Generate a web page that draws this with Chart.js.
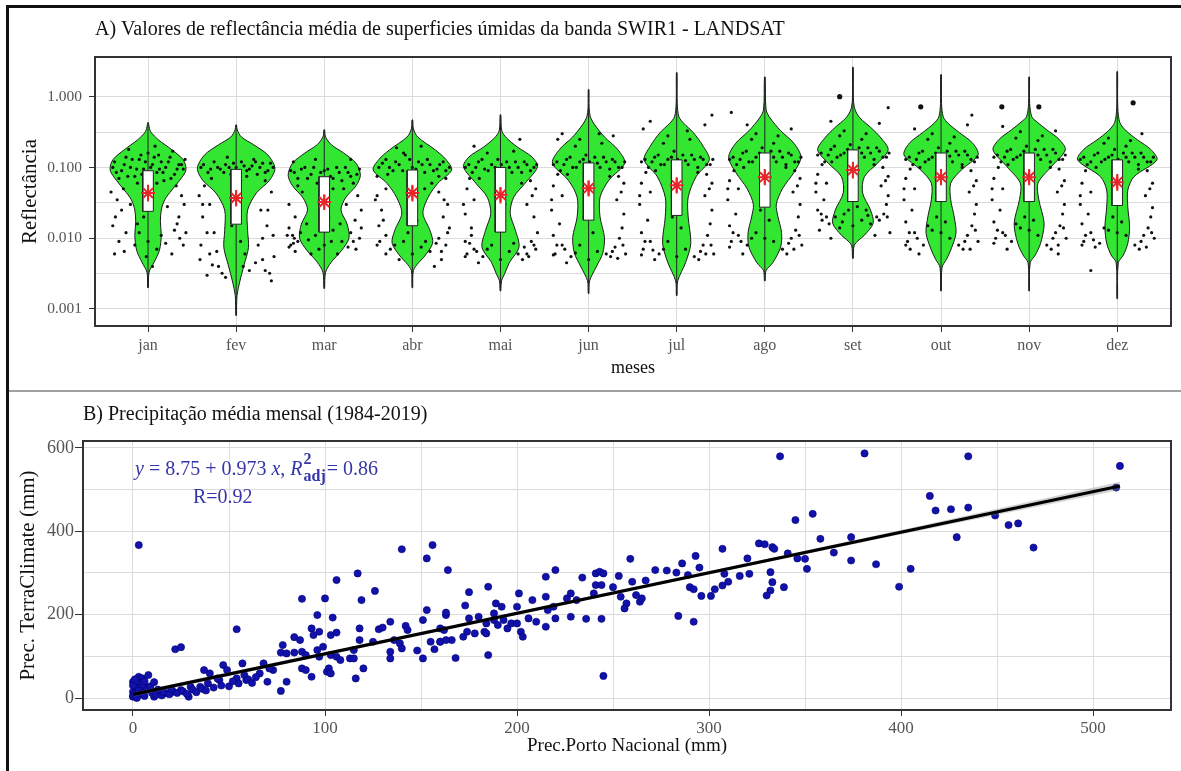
<!DOCTYPE html>
<html><head><meta charset="utf-8">
<script src="https://cdn.jsdelivr.net/npm/chart.js@4.4.0/dist/chart.umd.min.js"></script>
<style>
html,body{margin:0;padding:0;background:#fff;width:1181px;height:771px;overflow:hidden;}
#frame{position:absolute;left:6px;top:5px;width:1175px;height:766px;border-top:3px solid #111;border-left:3px solid #111;box-sizing:border-box;pointer-events:none;z-index:2}
#divider{position:absolute;left:9px;top:390px;width:1172px;height:0;border-top:2px solid #a0a0a0;z-index:2}
#wa{position:absolute;left:0;top:0;width:1181px;height:391px}
#wb{position:absolute;left:0;top:392px;width:1181px;height:379px}
</style></head><body>
<div id="wa"><canvas id="ca" width="1181" height="391"></canvas></div>
<div id="wb"><canvas id="cb" width="1181" height="379"></canvas></div>
<div id="frame"></div><div id="divider"></div>
<script>
// ---------- Panel A data ----------
const titleA = 'A) Valores de reflectância média de superficies úmidas da banda SWIR1 - LANDSAT';
const months = ['jan','fev','mar','abr','mai','jun','jul','ago','set','out','nov','dez'];
const yMajorTicks = [0.001, 0.01, 0.1, 1];
const yMajorLabels = ['0.001','0.010','0.100','1.000'];
const yMinorTicks = [0.00316, 0.0316, 0.316];
// violin outline: [reflectance, half width in category units]
const violinJan = [[0.0020,0.004],[0.0033,0.012],[0.0046,0.07],[0.0068,0.13],[0.011,0.15],[0.017,0.14],[0.025,0.15],[0.035,0.19],[0.048,0.27],[0.066,0.36],[0.092,0.43],[0.128,0.40],[0.178,0.27],[0.245,0.12],[0.32,0.03],[0.40,0.008],[0.43,0.004]];
const violinFev = [[0.00081,0.004],[0.00155,0.01],[0.0024,0.04],[0.0042,0.09],[0.0074,0.14],[0.0129,0.13],[0.025,0.13],[0.0436,0.23],[0.066,0.38],[0.098,0.44],[0.15,0.36],[0.209,0.2],[0.27,0.06],[0.34,0.012],[0.40,0.004]];
const violinMar = [[0.00195,0.004],[0.0033,0.015],[0.0046,0.08],[0.0068,0.2],[0.010,0.28],[0.0158,0.26],[0.025,0.19],[0.037,0.24],[0.055,0.36],[0.078,0.41],[0.115,0.36],[0.16,0.22],[0.21,0.08],[0.27,0.015],[0.34,0.004]];
const violinAbr = [[0.0020,0.004],[0.0035,0.012],[0.0045,0.07],[0.0054,0.13],[0.0085,0.23],[0.0129,0.2],[0.0225,0.12],[0.038,0.18],[0.060,0.29],[0.092,0.445],[0.13,0.38],[0.177,0.26],[0.27,0.06],[0.35,0.012],[0.47,0.004]];
const violinMai = [[0.0018,0.004],[0.0025,0.012],[0.0032,0.05],[0.0045,0.1],[0.0075,0.21],[0.0129,0.17],[0.0225,0.11],[0.038,0.15],[0.06,0.28],[0.102,0.42],[0.14,0.36],[0.195,0.19],[0.26,0.07],[0.33,0.015],[0.555,0.004]];
const violinJun = [[0.00166,0.004],[0.0025,0.012],[0.0039,0.085],[0.0061,0.16],[0.0103,0.18],[0.02,0.13],[0.038,0.13],[0.066,0.23],[0.115,0.41],[0.18,0.33],[0.27,0.18],[0.4,0.07],[0.52,0.02],[0.7,0.006],[1.26,0.004]];
const violinJul = [[0.00155,0.004],[0.0025,0.012],[0.0045,0.1],[0.0085,0.16],[0.02,0.13],[0.038,0.13],[0.074,0.22],[0.128,0.37],[0.2,0.3],[0.31,0.19],[0.42,0.08],[0.52,0.025],[0.8,0.006],[2.19,0.004]];
const violinAgo = [[0.0025,0.004],[0.0035,0.015],[0.0045,0.09],[0.0075,0.18],[0.012,0.19],[0.02,0.15],[0.03,0.13],[0.05,0.2],[0.085,0.33],[0.14,0.41],[0.22,0.33],[0.33,0.18],[0.5,0.06],[0.65,0.015],[1.9,0.004]];
const violinSet = [[0.0052,0.004],[0.0079,0.015],[0.0095,0.07],[0.011,0.13],[0.0163,0.23],[0.025,0.2],[0.0436,0.11],[0.074,0.13],[0.115,0.28],[0.177,0.40],[0.26,0.32],[0.37,0.2],[0.5,0.08],[0.65,0.025],[0.9,0.006],[2.6,0.004]];
const violinOut = [[0.0018,0.004],[0.0039,0.012],[0.005,0.06],[0.0068,0.11],[0.0118,0.17],[0.02,0.15],[0.035,0.11],[0.06,0.11],[0.092,0.23],[0.15,0.42],[0.22,0.36],[0.31,0.21],[0.42,0.08],[0.52,0.025],[0.8,0.006],[2.05,0.004]];
const violinNov = [[0.0018,0.004],[0.0045,0.012],[0.0058,0.07],[0.0085,0.13],[0.0163,0.17],[0.035,0.11],[0.06,0.1],[0.102,0.25],[0.177,0.41],[0.25,0.34],[0.34,0.2],[0.45,0.08],[0.52,0.03],[0.8,0.006],[1.9,0.004]];
const violinDez = [[0.0014,0.004],[0.0045,0.012],[0.0058,0.07],[0.0085,0.12],[0.0144,0.14],[0.0275,0.12],[0.048,0.12],[0.074,0.19],[0.128,0.45],[0.18,0.38],[0.245,0.23],[0.33,0.1],[0.43,0.03],[0.7,0.006],[2.26,0.004]];
const violins = [violinJan,violinFev,violinMar,violinAbr,violinMai,violinJun,violinJul,violinAgo,violinSet,violinOut,violinNov,violinDez];
const boxQ1 = [0.024,0.0158,0.0122,0.015,0.0122,0.018,0.021,0.0275,0.033,0.033,0.033,0.029];
const boxQ3 = [0.09,0.094,0.074,0.092,0.1,0.116,0.128,0.16,0.177,0.16,0.16,0.128];
const means = [0.0435,0.037,0.0325,0.0436,0.041,0.051,0.056,0.073,0.092,0.073,0.073,0.062];
const meanLo = [0.033,0.028,0.025,0.033,0.031,0.039,0.043,0.056,0.070,0.056,0.056,0.047];
const meanHi = [0.057,0.048,0.042,0.057,0.053,0.066,0.073,0.095,0.12,0.095,0.095,0.081];
// jittered observations: [offset from month, reflectance]
const jitJan = [[-0.38,0.12],[-0.3,0.09],[-0.25,0.14],[-0.2,0.1],[-0.15,0.075],[-0.1,0.13],[-0.05,0.095],[0,0.16],[0.05,0.11],[0.1,0.085],[0.15,0.12],[0.2,0.1],[0.25,0.14],[0.3,0.08],[0.35,0.11],[0.4,0.095],[-0.33,0.07],[-0.22,0.18],[0.08,0.2],[0.28,0.17],[-0.12,0.06],[0.18,0.065],[-0.4,0.1],[0.42,0.13],[-0.28,0.05],[0.32,0.055],[0.02,0.07],[-0.08,0.15],[0.12,0.15],[-0.35,0.035],[0.38,0.04],[-0.3,0.025],[0.35,0.02],[-0.4,0.015],[0.3,0.013],[-0.2,0.03],[0.22,0.028],[-0.33,0.009],[0.4,0.008],[-0.1,0.012],[0.1,0.007],[-0.38,0.006],[0.27,0.006],[0,0.009],[0.05,0.004],[-0.05,0.02],[0.15,0.011],[-0.25,0.012],[0.43,0.012],[-0.15,0.008],
 [-0.36,0.085],[-0.27,0.11],[-0.18,0.13],[-0.13,0.095],[-0.03,0.12],[0.03,0.1],[0.07,0.14],[0.13,0.095],[0.17,0.085],[0.23,0.12],[0.33,0.095],[0.38,0.11],[-0.23,0.075],[0.26,0.07],[-0.07,0.08],[0.1,0.06],[-0.42,0.045],[0.41,0.03],[-0.37,0.02],[0.33,0.016],[-0.27,0.0065],[0.36,0.01],[-0.12,0.016],[0.2,0.0085],[-0.02,0.0055]];
const jitFev = [[-0.4,0.1],[-0.32,0.085],[-0.25,0.12],[-0.18,0.095],[-0.12,0.11],[-0.06,0.08],[0,0.1],[0.06,0.12],[0.12,0.09],[0.18,0.105],[0.24,0.08],[0.3,0.115],[0.36,0.09],[0.42,0.1],[-0.28,0.07],[0.2,0.13],[-0.1,0.14],[0.05,0.065],[0.33,0.065],[-0.36,0.055],[-0.42,0.04],[0.4,0.045],[-0.3,0.03],[0.28,0.025],[-0.38,0.02],[0.35,0.015],[-0.25,0.012],[0.42,0.011],[-0.4,0.008],[0.25,0.008],[-0.3,0.006],[0.3,0.005],[-0.2,0.004],[0.15,0.0035],[-0.33,0.003],[0.38,0.0032],[-0.12,0.0028],[0.05,0.009],[-0.05,0.015],[0.1,0.006],[-0.22,0.0065],[0.4,0.0025],
 [-0.37,0.11],[-0.29,0.095],[-0.21,0.1],[-0.14,0.085],[-0.03,0.115],[0.03,0.09],[0.09,0.105],[0.15,0.095],[0.22,0.12],[0.27,0.1],[0.33,0.085],[0.39,0.115],[-0.08,0.1],[0.12,0.075],[-0.38,0.03],[0.36,0.025],[-0.33,0.012],[0.3,0.01],[-0.41,0.005],[0.22,0.0045],[-0.16,0.0032],[0.43,0.0055],[-0.27,0.0042],[0.08,0.004],[0.33,0.0035]];
const jitMar = [[-0.38,0.09],[-0.3,0.07],[-0.22,0.1],[-0.15,0.08],[-0.08,0.06],[0,0.09],[0.07,0.075],[0.14,0.1],[0.2,0.065],[0.27,0.085],[0.33,0.06],[0.4,0.095],[-0.35,0.12],[0.3,0.13],[-0.1,0.13],[0.1,0.05],[-0.25,0.045],[0.38,0.04],[-0.4,0.03],[0.42,0.025],[-0.33,0.02],[0.35,0.018],[-0.4,0.014],[-0.36,0.011],[-0.3,0.009],[-0.38,0.008],[0.3,0.012],[0.4,0.01],[-0.2,0.016],[0.2,0.009],[-0.1,0.011],[0.1,0.013],[0,0.008],[-0.15,0.006],[0.15,0.006],[-0.33,0.0065],[0.36,0.007],[0.05,0.02],[-0.05,0.03],[0.25,0.03],
 [-0.34,0.085],[-0.26,0.095],[-0.19,0.07],[-0.12,0.1],[-0.04,0.085],[0.04,0.095],[0.1,0.07],[0.17,0.085],[0.24,0.1],[0.3,0.075],[0.37,0.08],[-0.3,0.055],[0.22,0.05],[-0.42,0.011],[-0.34,0.01],[-0.4,0.0075],[-0.35,0.0085],[0.33,0.009],[0.42,0.014],[0.27,0.0075],[-0.27,0.012],[0.08,0.009],[-0.06,0.007],[0.18,0.016],[-0.18,0.0095]];
const jitAbr = [[-0.38,0.1],[-0.3,0.13],[-0.22,0.09],[-0.15,0.11],[-0.08,0.15],[0,0.1],[0.07,0.12],[0.14,0.085],[0.2,0.11],[0.28,0.095],[0.35,0.12],[0.42,0.1],[-0.4,0.075],[0.38,0.07],[-0.18,0.19],[0.1,0.2],[-0.05,0.065],[0.22,0.06],[-0.3,0.05],[0.3,0.045],[-0.42,0.035],[0.4,0.03],[-0.35,0.025],[0.35,0.02],[-0.38,0.015],[0.42,0.014],[-0.3,0.011],[0.3,0.01],[-0.4,0.008],[0.38,0.008],[-0.25,0.007],[0.2,0.0065],[-0.1,0.009],[0.1,0.0075],[0,0.006],[-0.15,0.005],[0.33,0.005],[0.25,0.004],[-0.05,0.012],[0.05,0.018],
 [-0.34,0.115],[-0.26,0.1],[-0.19,0.12],[-0.11,0.09],[-0.03,0.13],[0.04,0.095],[0.11,0.11],[0.17,0.13],[0.24,0.09],[0.31,0.11],[0.38,0.09],[-0.28,0.08],[0.3,0.075],[-0.1,0.16],[0.14,0.05],[-0.4,0.04],[0.36,0.035],[-0.33,0.018],[0.4,0.012],[-0.37,0.009],[0.33,0.0065],[-0.2,0.008],[0.15,0.009],[-0.3,0.006],[0.27,0.0085]];
const jitMai = [[-0.4,0.1],[-0.32,0.085],[-0.25,0.12],[-0.18,0.095],[-0.1,0.11],[-0.03,0.13],[0.04,0.09],[0.1,0.1],[0.17,0.12],[0.24,0.085],[0.3,0.11],[0.38,0.1],[-0.35,0.07],[0.34,0.065],[-0.15,0.16],[0.15,0.17],[0,0.065],[-0.38,0.05],[0.4,0.05],[-0.3,0.035],[0.3,0.03],[-0.4,0.022],[0.38,0.02],[-0.33,0.014],[0.42,0.012],[-0.4,0.009],[0.35,0.009],[-0.3,0.007],[0.3,0.006],[-0.38,0.006],[0.4,0.007],[-0.2,0.0055],[0.2,0.006],[-0.1,0.008],[0.1,0.0065],[0,0.005],[-0.25,0.0045],[0.25,0.005],[-0.05,0.015],[0.05,0.03],[0.22,0.25],[-0.3,0.2],
 [-0.36,0.11],[-0.28,0.1],[-0.21,0.13],[-0.14,0.09],[-0.06,0.1],[0.01,0.11],[0.07,0.12],[0.13,0.085],[0.2,0.1],[0.27,0.12],[0.34,0.09],[0.41,0.11],[-0.24,0.07],[0.24,0.06],[-0.42,0.03],[0.36,0.04],[-0.35,0.0085],[0.38,0.008],[-0.27,0.0065],[0.27,0.0075],[-0.4,0.0055],[0.32,0.0055],[-0.15,0.007],[0.15,0.0085],[-0.33,0.011]];
const jitJun = [[-0.4,0.11],[-0.32,0.09],[-0.25,0.13],[-0.18,0.1],[-0.1,0.12],[-0.03,0.15],[0.04,0.1],[0.1,0.115],[0.17,0.14],[0.24,0.095],[0.3,0.12],[0.38,0.1],[-0.35,0.08],[0.34,0.075],[-0.15,0.2],[0.15,0.22],[-0.3,0.3],[0.28,0.28],[0,0.075],[-0.4,0.055],[0.4,0.06],[-0.3,0.04],[0.32,0.035],[-0.42,0.025],[0.4,0.022],[-0.33,0.016],[0.38,0.014],[-0.4,0.011],[0.35,0.01],[-0.3,0.008],[0.3,0.0075],[-0.38,0.006],[0.42,0.006],[-0.2,0.0055],[0.2,0.006],[-0.1,0.008],[0.1,0.0065],[0,0.005],[-0.25,0.0045],[0.25,0.0055],[-0.05,0.02],[0.05,0.012],[-0.35,0.25],
 [-0.36,0.12],[-0.28,0.11],[-0.21,0.14],[-0.14,0.1],[-0.06,0.13],[0.01,0.12],[0.07,0.14],[0.13,0.1],[0.2,0.12],[0.27,0.13],[0.34,0.1],[0.41,0.12],[-0.24,0.08],[0.24,0.075],[-0.1,0.25],[0.12,0.3],[-0.42,0.035],[0.37,0.045],[-0.36,0.008],[0.39,0.008],[-0.27,0.007],[0.27,0.0065],[-0.4,0.0058],[0.33,0.0052],[-0.15,0.0062]];
const jitJul = [[-0.4,0.12],[-0.32,0.1],[-0.25,0.14],[-0.18,0.11],[-0.1,0.13],[-0.03,0.17],[0.04,0.11],[0.1,0.125],[0.17,0.15],[0.24,0.1],[0.3,0.13],[0.38,0.11],[-0.35,0.085],[0.34,0.08],[-0.15,0.22],[0.15,0.25],[-0.38,0.35],[0.32,0.4],[0.4,0.55],[-0.3,0.45],[0,0.08],[-0.4,0.06],[0.4,0.06],[-0.3,0.045],[0.32,0.04],[-0.42,0.03],[0.4,0.025],[-0.33,0.018],[0.38,0.016],[-0.4,0.012],[0.35,0.011],[-0.3,0.009],[0.3,0.008],[-0.38,0.007],[0.42,0.006],[-0.2,0.006],[0.2,0.0055],[-0.1,0.009],[0.1,0.007],[0,0.0055],[-0.25,0.005],[0.25,0.005],[-0.05,0.02],[0.05,0.014],
 [-0.36,0.13],[-0.28,0.12],[-0.21,0.15],[-0.14,0.11],[-0.06,0.14],[0.01,0.13],[0.07,0.15],[0.13,0.11],[0.2,0.13],[0.27,0.14],[0.34,0.11],[0.41,0.13],[-0.24,0.09],[0.24,0.085],[-0.1,0.28],[0.12,0.33],[-0.42,0.04],[0.37,0.05],[-0.36,0.009],[0.39,0.008],[-0.27,0.0068],[0.27,0.0065],[-0.4,0.0058],[0.33,0.006],[-0.15,0.007]];
const jitAgo = [[-0.4,0.13],[-0.32,0.11],[-0.25,0.16],[-0.18,0.12],[-0.1,0.14],[-0.03,0.19],[0.04,0.12],[0.1,0.14],[0.17,0.17],[0.24,0.11],[0.3,0.15],[0.38,0.12],[-0.35,0.09],[0.34,0.09],[-0.15,0.25],[0.15,0.28],[-0.2,0.4],[0.3,0.35],[-0.38,0.6],[0,0.09],[-0.4,0.065],[0.4,0.07],[-0.3,0.05],[0.32,0.045],[-0.42,0.035],[0.4,0.03],[-0.33,0.022],[0.38,0.02],[-0.4,0.015],[0.35,0.013],[-0.3,0.011],[0.3,0.01],[-0.38,0.009],[0.42,0.008],[-0.2,0.008],[0.2,0.007],[-0.1,0.012],[0.1,0.009],[0,0.01],[-0.25,0.006],[0.25,0.006],[-0.05,0.025],[0.05,0.018],
 [-0.36,0.14],[-0.28,0.13],[-0.21,0.17],[-0.14,0.12],[-0.06,0.16],[0.01,0.14],[0.07,0.17],[0.13,0.12],[0.2,0.14],[0.27,0.16],[0.34,0.12],[0.41,0.14],[-0.24,0.1],[0.24,0.1],[-0.1,0.3],[0.1,0.22],[-0.42,0.05],[0.37,0.055],[-0.36,0.012],[0.39,0.011],[-0.27,0.009],[0.27,0.0085],[-0.4,0.0075],[0.33,0.007],[-0.15,0.01]];
const jitSet = [[-0.4,0.15],[-0.32,0.12],[-0.25,0.18],[-0.18,0.14],[-0.1,0.16],[-0.03,0.21],[0.04,0.13],[0.1,0.16],[0.17,0.19],[0.24,0.13],[0.3,0.17],[0.38,0.14],[-0.35,0.11],[0.34,0.1],[-0.15,0.28],[0.15,0.3],[-0.25,0.45],[0.3,0.42],[0.4,0.7],[-0.05,0.09],[-0.4,0.08],[0.4,0.075],[-0.3,0.06],[0.32,0.055],[-0.42,0.045],[0.4,0.04],[-0.33,0.035],[0.38,0.03],[-0.4,0.025],[0.35,0.022],[-0.3,0.02],[0.3,0.018],[-0.2,0.02],[0.2,0.016],[-0.1,0.022],[0.1,0.018],[0,0.015],[-0.15,0.014],[0.15,0.025],[-0.38,0.013],[0.42,0.012],[-0.25,0.01],[0.25,0.011],[-0.35,0.018],[0.05,0.028],
 [-0.36,0.16],[-0.28,0.15],[-0.21,0.2],[-0.14,0.15],[-0.06,0.18],[0.01,0.16],[0.07,0.19],[0.13,0.14],[0.2,0.16],[0.27,0.19],[0.34,0.14],[0.41,0.16],[-0.24,0.12],[0.24,0.11],[-0.1,0.33],[0.1,0.25],[-0.42,0.06],[0.37,0.065],[-0.36,0.022],[0.39,0.02],[-0.27,0.016],[0.27,0.02],[-0.12,0.017],[0.17,0.021],[-0.05,0.025]];
const jitOut = [[-0.4,0.13],[-0.32,0.11],[-0.25,0.16],[-0.18,0.12],[-0.1,0.14],[-0.03,0.19],[0.04,0.12],[0.1,0.145],[0.17,0.17],[0.24,0.11],[0.3,0.15],[0.38,0.12],[-0.35,0.095],[0.34,0.09],[-0.15,0.25],[0.15,0.27],[-0.3,0.35],[0.3,0.4],[0.35,0.55],[-0.05,0.085],[-0.4,0.07],[0.4,0.065],[-0.3,0.05],[0.32,0.045],[-0.42,0.035],[0.4,0.03],[-0.33,0.025],[0.38,0.022],[-0.4,0.017],[0.35,0.015],[-0.3,0.012],[0.3,0.011],[-0.38,0.009],[0.42,0.009],[-0.2,0.008],[0.2,0.008],[-0.1,0.013],[0.1,0.01],[0,0.012],[-0.25,0.006],[0.25,0.007],[-0.05,0.02],[0.05,0.017],[-0.35,0.007],
 [-0.36,0.14],[-0.28,0.13],[-0.21,0.17],[-0.14,0.13],[-0.06,0.16],[0.01,0.14],[0.07,0.17],[0.13,0.12],[0.2,0.15],[0.27,0.17],[0.34,0.13],[0.41,0.14],[-0.24,0.1],[0.24,0.1],[-0.1,0.3],[0.1,0.22],[-0.42,0.05],[0.37,0.055],[-0.36,0.012],[0.39,0.013],[-0.27,0.01],[0.27,0.009],[-0.4,0.008],[0.33,0.007],[-0.15,0.015]];
const jitNov = [[-0.4,0.14],[-0.32,0.12],[-0.25,0.17],[-0.18,0.13],[-0.1,0.15],[-0.03,0.2],[0.04,0.12],[0.1,0.15],[0.17,0.18],[0.24,0.12],[0.3,0.16],[0.38,0.13],[-0.35,0.1],[0.34,0.095],[-0.15,0.26],[0.15,0.28],[-0.3,0.38],[0.3,0.33],[-0.05,0.09],[-0.4,0.07],[0.4,0.065],[-0.3,0.05],[0.32,0.045],[-0.42,0.035],[0.4,0.03],[-0.33,0.025],[0.38,0.022],[-0.4,0.017],[0.35,0.015],[-0.3,0.012],[0.3,0.012],[-0.38,0.01],[0.42,0.01],[-0.2,0.009],[0.2,0.008],[-0.1,0.014],[0.1,0.011],[0,0.013],[-0.25,0.007],[0.25,0.007],[-0.05,0.02],[0.05,0.018],[0.33,0.006],
 [-0.36,0.15],[-0.28,0.14],[-0.21,0.18],[-0.14,0.14],[-0.06,0.17],[0.01,0.15],[0.07,0.18],[0.13,0.13],[0.2,0.15],[0.27,0.18],[0.34,0.13],[0.41,0.15],[-0.24,0.11],[0.24,0.1],[-0.1,0.32],[0.1,0.24],[-0.42,0.05],[0.37,0.055],[-0.36,0.013],[0.39,0.014],[-0.27,0.011],[0.27,0.01],[-0.4,0.0085],[0.33,0.008],[-0.15,0.016]];
const jitDez = [[-0.42,0.13],[-0.34,0.11],[-0.26,0.15],[-0.18,0.12],[-0.1,0.14],[-0.03,0.18],[0.04,0.12],[0.1,0.14],[0.17,0.16],[0.24,0.11],[0.3,0.14],[0.38,0.12],[-0.36,0.09],[0.34,0.09],[-0.15,0.22],[0.15,0.24],[0.28,0.3],[-0.05,0.08],[-0.4,0.06],[0.4,0.06],[-0.3,0.045],[0.32,0.04],[-0.42,0.03],[0.4,0.027],[-0.33,0.022],[0.38,0.02],[-0.4,0.016],[0.35,0.014],[-0.3,0.012],[0.3,0.011],[-0.38,0.009],[0.42,0.01],[-0.2,0.0085],[0.2,0.008],[-0.1,0.013],[0.1,0.011],[0,0.012],[-0.25,0.0075],[0.25,0.007],[-0.05,0.02],[0.05,0.017],[-0.3,0.0035],
 [-0.38,0.14],[-0.3,0.12],[-0.22,0.16],[-0.14,0.13],[-0.06,0.15],[0.01,0.13],[0.07,0.16],[0.13,0.12],[0.2,0.14],[0.27,0.16],[0.34,0.12],[0.41,0.14],[-0.24,0.1],[0.24,0.095],[-0.1,0.26],[0.1,0.2],[-0.42,0.04],[0.37,0.05],[-0.36,0.011],[0.39,0.012],[-0.27,0.0095],[0.27,0.009],[-0.4,0.008],[0.33,0.0075],[-0.15,0.014]];
const jitters = [jitJan,jitFev,jitMar,jitAbr,jitMai,jitJun,jitJul,jitAgo,jitSet,jitOut,jitNov,jitDez];
// larger outlying dots: [month index, offset, reflectance]
const outliers = [[8,-0.15,1.0],[9,-0.23,0.72],[10,-0.31,0.72],[10,0.11,0.72],[11,0.18,0.82]];

// ---------- Panel B data ----------
const titleB = 'B) Precipitação média mensal (1984-2019)';
const eqMain = ' = 8.75 + 0.973 ';
const eqR2 = '= 0.86';
const eqR = 'R=0.92';
// [Prec. Porto Nacional, Prec. TerraClimate] (mm)
const precPairs = [
[337,580],[381,587],[435,580],[514,557],[512,505],[415,485],[418,450],[426,453],[435,457],[449,438],[456,415],[461,419],[469,361],[429,386],[345,427],[354,442],[358,382],[374,386],[365,349],[374,330],[387,321],[405,310],[399,267],[346,335],[350,334],[351,310],[339,266],[333,362],[334,358],[341,347],
[164,307],[175,254],[185,267],[173,222],[163,199],[160,167],[162,163],[166,139],[160,135],[168,96],[185,103],[172,147],[174,159],[178,155],[183,159],[184,155],[175,191],[180,195],[184,179],[188,203],[189,227],[192,219],[188,187],[190,175],[193,187],[195,167],[197,179],[200,219],[201,251],[200,179],[202,159],[203,147],[206,191],[208,235],[210,183],[215,243],[215,171],[216,211],[219,219],[220,191],[220,307],[215,291],[226,239],[228,251],[228,195],[231,235],[234,289],[236,190],[240,251],[241,299],[243,303],[245,299],[241,271],[244,271],[244,190],[245,53],[250,266],[253,293],[254,243],[257,227],[256,215],[259,334],[260,279],[262,247],[264,231],[265,239],[267,282],[272,307],[278,306],[283,301],[284,197],[286,323],[289,295],[290,266],[292,261],[292,183],[293,341],[295,313],[296,245],[301,245],[303,261],[307,358],[307,270],[308,298],[310,279],[316,293],[320,335],[321,298],[326,371],[329,369],[332,302],[333,278],[332,258],[330,246],
[3,367],[140,357],[156,367],[153,335],[117,299],[106,283],[126,257],[88,238],[100,239],[119,235],[96,199],[104,193],[93,167],[94,151],[97,159],[103,151],[106,157],[84,146],[87,139],[78,127],[54,165],[22,117],[25,122],[77,109],[80,107],[84,109],[88,111],[90,103],[96,115],[97,99],[99,123],[103,103],[106,99],[108,91],[113,95],[115,115],[118,139],[118,167],[125,135],[128,165],[130,169],[134,183],[136,139],[139,131],[140,119],[134,111],[134,95],[142,173],[143,163],[148,114],[151,95],[153,211],[151,187],[155,135],[157,117],[160,135],[163,205],[163,139],
[88,71],[93,51],[90,67],[101,63],[102,71],[103,59],[116,47],[120,71],[115,95],[77,17],[80,39],[70,39],[73,67],[71,71],[68,83],[66,59],[59,43],[58,55],[54,47],[55,35],[57,83],[47,79],[49,67],[45,43],[40,59],[44,47],[37,67],[39,35],[35,27],[30,27],[29,3],[25,19],[21,15],[18,11],[14,11],[11,3],[9,19],[5,15],[2,11],[0,3],[0,15],[1,27],[0,39],[3,51],[5,47],[8,55],[4,35],[2,23],
[0,5],[1,8],[2,2],[3,18],[4,10],[6,5],[7,25],[10,12],[12,8],[13,20],[15,6],[16,14],[19,9],[20,22],[23,12],[26,16],[28,10],[31,20],[33,14],[36,22],[38,18],[42,25],[46,30],[50,28],[52,40],[60,45],[62,36],[64,50],[0,30],[1,45],[2,0],[5,32],[6,40],[9,28],[11,38]
];
const regX = [0, 514];
const regY = [8.75, 508.9];
const bandX = [0, 100, 200, 300, 400, 514];
const bandLo = [3, 102, 200, 297, 393, 499];
const bandHi = [14, 110, 207, 304, 403, 519];
const xTicksB = [0,50,100,150,200,250,300,350,400,450,500];
const yTicksB = [0,100,200,300,400,500,600];

// ---------- styling ----------
const serif = "'Liberation Serif','Times New Roman',serif";
const gridCol = '#dcdcdc';
const tickLabCol = '#555555';
const frameCol = '#333333';

const framePlugin = {id:'frame', afterDraw(chart){
  const a = chart.chartArea, ctx = chart.ctx;
  ctx.save(); ctx.strokeStyle = frameCol; ctx.lineWidth = 2;
  ctx.strokeRect(a.left, a.top, a.right - a.left, a.bottom - a.top);
  ctx.restore();
}};

// ---------- Panel A chart ----------
const dsA = [];
violins.forEach((prof, i) => {
  const right = prof.map(p => ({x: i + p[1], y: p[0]}));
  const left = prof.slice().reverse().map(p => ({x: i - p[1], y: p[0]}));
  dsA.push({data: right.concat(left, [right[0]]), borderColor:'#1b1b1b', borderWidth:1,
    backgroundColor:'#32e632', fill:'shape', pointRadius:0, tension:0.3, order:6});
});
const jitData = [];
jitters.forEach((arr, i) => arr.forEach(p => jitData.push({x: i + p[0], y: p[1]})));
dsA.push({data: jitData, showLine:false, pointRadius:1.6, pointBackgroundColor:'#111', pointBorderWidth:0, order:5});
dsA.push({data: outliers.map(o => ({x: o[0] + o[1], y: o[2]})), showLine:false, pointRadius:2.6, pointBackgroundColor:'#111', pointBorderWidth:0, order:5});
const centerLine = [];
violins.forEach((prof, i) => { centerLine.push({x:i, y:prof[0][0]}, {x:i, y:prof[prof.length-1][0]}, {x:i, y:null}); });
dsA.push({data: centerLine, borderColor:'#222', borderWidth:1, pointRadius:0, spanGaps:false, order:4});
boxQ1.forEach((q1, i) => {
  const q3 = boxQ3[i];
  dsA.push({data:[{x:i-0.06,y:q1},{x:i+0.06,y:q1},{x:i+0.06,y:q3},{x:i-0.06,y:q3},{x:i-0.06,y:q1}],
    borderColor:'#222', borderWidth:1, backgroundColor:'#ffffff', fill:'shape', pointRadius:0, tension:0, order:3});
});
const ciLine = [];
means.forEach((m, i) => { ciLine.push({x:i, y:meanLo[i]}, {x:i, y:meanHi[i]}, {x:i, y:null}); });
dsA.push({data: ciLine, borderColor:'#e8262a', borderWidth:2, pointRadius:0, spanGaps:false, order:2});
dsA.push({data: means.map((m, i) => ({x:i, y:m})), showLine:false, pointStyle:'star', pointRadius:7,
  pointBorderColor:'#e8262a', pointBackgroundColor:'#e8262a', pointBorderWidth:2, order:1});

const allYTicksA = yMajorTicks.concat(yMinorTicks).sort((a,b)=>a-b);
new Chart(document.getElementById('ca'), {
  type:'line',
  data:{datasets: dsA},
  options:{
    responsive:false, animation:false, events:[],
    layout:{padding:{left:10,right:10,top:0,bottom:0}, autoPadding:false},
    plugins:{legend:{display:false}, tooltip:{enabled:false},
      title:{display:true, text:titleA, align:'start', fullSize:false, color:'#111',
        font:{family:serif, size:20, weight:'normal'}, padding:{top:18,bottom:15}}},
    scales:{
      x:{type:'linear', min:-0.602, max:11.61,
        afterBuildTicks: s => { s.ticks = months.map((m,i)=>({value:i})); },
        afterFit: s => { s.height = 65; },
        ticks:{autoSkip:false, color:tickLabCol, font:{family:serif,size:16}, padding:4,
          callback: v => months[Math.round(v)] || ''},
        grid:{color:gridCol, lineWidth:1, tickLength:6, tickColor:'#333', drawTicks:true},
        border:{display:false},
        title:{display:true, text:'meses', color:'#111', font:{family:serif,size:18}, padding:{top:0,bottom:11.6}}},
      y:{type:'logarithmic', min:0.000575, max:3.64,
        afterBuildTicks: s => { s.ticks = allYTicksA.map(v=>({value:v})); },
        afterFit: s => { s.width = 85; },
        ticks:{autoSkip:false, color:tickLabCol, font:{family:serif,size:15.5}, padding:7,
          callback: v => { const k = yMajorTicks.findIndex(t => Math.abs(t - v) / t < 1e-6); return k >= 0 ? yMajorLabels[k] : ''; }},
        grid:{color:gridCol, lineWidth:1, tickLength:6, drawTicks:true,
          tickColor: c => (c.tick && yMajorTicks.some(t => Math.abs(t - c.tick.value) / t < 1e-6)) ? '#333' : 'rgba(0,0,0,0)'},
        border:{display:false},
        title:{display:true, text:'Reflectância', color:'#111', font:{family:serif,size:21}, padding:{top:7.4,bottom:0}}}
    }
  },
  plugins:[framePlugin]
});

// ---------- Panel B chart ----------
const eqColor = '#3535a8';
const eqPlugin = {id:'eq', afterDraw(chart){
  const ctx = chart.ctx, a = chart.chartArea, fs = 20;
  ctx.save(); ctx.fillStyle = eqColor; ctx.textBaseline = 'middle'; ctx.textAlign = 'left';
  let x = a.left + 52; const y = a.top + 29;
  const parts = [['y','italic '],[eqMain,''],['x','italic '],[', ',''],['R','italic ']];
  for (const [t, st] of parts) { ctx.font = st + fs + 'px ' + serif; ctx.fillText(t, x, y); x += ctx.measureText(t).width; }
  ctx.font = 'bold ' + Math.round(fs*0.8) + 'px ' + serif;
  ctx.fillText('2', x + 1, y - 10);
  const wAdj = ctx.measureText('adj').width;
  ctx.fillText('adj', x + 1, y + 7);
  x += wAdj + 2;
  ctx.font = fs + 'px ' + serif;
  ctx.fillText(eqR2, x, y);
  ctx.fillText(eqR, a.left + 110, a.top + 57);
  ctx.restore();
}};

new Chart(document.getElementById('cb'), {
  type:'line',
  data:{datasets:[
    {data: precPairs.map(p=>({x:p[0], y:p[1]})), showLine:false, pointRadius:3.6,
      pointBackgroundColor:'#1212aa', pointBorderColor:'#00007a', pointBorderWidth:0.6, order:3},
    {data: bandX.map((x,i)=>({x, y:bandLo[i]})), borderWidth:0, pointRadius:0, fill:false, order:2},
    {data: bandX.map((x,i)=>({x, y:bandHi[i]})), borderWidth:0, pointRadius:0, fill:'-1', backgroundColor:'rgba(130,130,130,0.35)', order:2},
    {data: regX.map((x,i)=>({x, y:regY[i]})), borderColor:'#000', borderWidth:3.2, pointRadius:0, order:1}
  ]},
  options:{
    responsive:false, animation:false, events:[],
    layout:{padding:{left:10,right:10,top:0,bottom:0}, autoPadding:false},
    plugins:{legend:{display:false}, tooltip:{enabled:false},
      title:{display:true, text:titleB, align:'start', fullSize:false, color:'#111',
        font:{family:serif, size:20, weight:'normal'}, padding:{top:11,bottom:14}}},
    scales:{
      x:{type:'linear', min:-26.04, max:540.6,
        afterBuildTicks: s => { s.ticks = xTicksB.map(v=>({value:v})); },
        afterFit: s => { s.height = 61; },
        ticks:{autoSkip:false, color:tickLabCol, font:{family:serif,size:17}, padding:2,
          callback: v => (v % 100 === 0 ? String(v) : '')},
        grid:{color:gridCol, lineWidth:1, tickLength:6, drawTicks:true,
          tickColor: c => (c.tick && c.tick.value % 100 === 0) ? '#333' : 'rgba(0,0,0,0)'},
        border:{display:false},
        title:{display:true, text:'Prec.Porto Nacional (mm)', color:'#111', font:{family:serif,size:19}, padding:{top:0,bottom:13.6}}},
      y:{type:'linear', min:-28.8, max:616.8,
        afterBuildTicks: s => { s.ticks = yTicksB.map(v=>({value:v})); },
        afterFit: s => { s.width = 73; },
        ticks:{autoSkip:false, color:tickLabCol, font:{family:serif,size:18}, padding:1,
          callback: v => (v % 200 === 0 ? String(v) : '')},
        grid:{color:gridCol, lineWidth:1, tickLength:8, drawTicks:true,
          tickColor: c => (c.tick && c.tick.value % 200 === 0) ? '#333' : 'rgba(0,0,0,0)'},
        border:{display:false},
        title:{display:true, text:'Prec. TerraClimate (mm)', color:'#111', font:{family:serif,size:21}, padding:{top:5.4,bottom:0}}}
    }
  },
  plugins:[framePlugin, eqPlugin]
});
</script>
</body></html>
